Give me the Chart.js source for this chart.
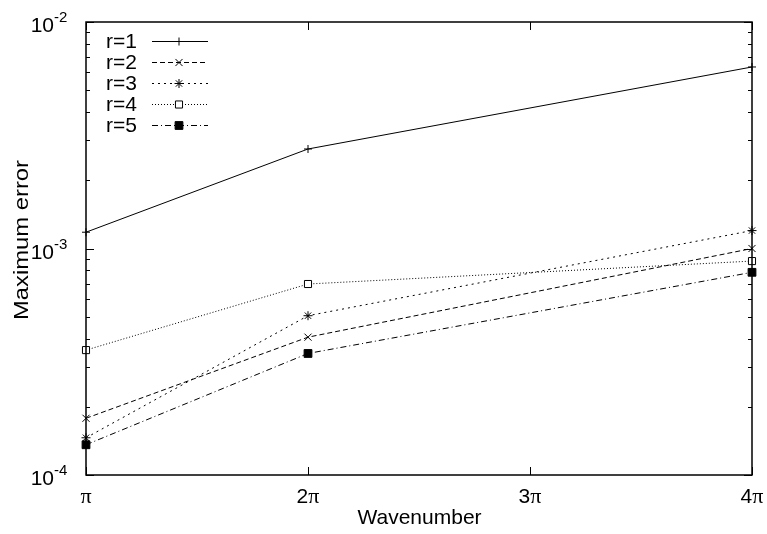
<!DOCTYPE html>
<html>
<head>
<meta charset="utf-8">
<script src="https://cdn.jsdelivr.net/npm/chart.js@4.4.1/dist/chart.umd.min.js"></script>
<style>
  html, body { margin: 0; padding: 0; background: #fff; }
</style>
</head>
<body>
<canvas id="myChart" width="767" height="534"></canvas>
<script>
// Datos: número de onda en múltiplos de pi
const wavenumbers = [1, 2, 4];
const seriesNames = ['r=1', 'r=2', 'r=3', 'r=4', 'r=5'];
const errR1 = [1.18e-3, 2.75e-3, 6.33e-3];
const errR2 = [1.78e-4, 4.06e-4, 1.0e-3];
const errR3 = [1.46e-4, 5.05e-4, 1.2e-3];
const errR4 = [3.56e-4, 6.97e-4, 8.8e-4];
const errR5 = [1.36e-4, 3.44e-4, 7.85e-4];

// Ejes
const xTickValues = [1, 2, 3, 4];
const xTickFactors = ['', '2', '3', '4'];   // se dibujan delante de π
const yTickValues = [1e-4, 1e-3, 1e-2];
const yTickExponents = ['-4', '-3', '-2'];

const FONT = "'Liberation Sans', Arial, sans-serif";
const FONT_PI = "'Liberation Serif', 'DejaVu Serif', serif";

// Estilo gnuplot: línea, guiones y marcador por serie
const estilos = [
    { dash: [], point: 'cross', radius: 4, fill: '#000' },
    { dash: [5, 3], point: 'crossRot', radius: 5, fill: '#000' },
    { dash: [2, 4], point: 'star', radius: 4.5, fill: '#000' },
    { dash: [1, 2], point: 'rect', radius: 5, fill: '#fff' },
    { dash: [6, 3, 1, 3], point: 'rect', radius: 5.5, fill: '#000' }
];

const allErrors = [errR1, errR2, errR3, errR4, errR5];

const datasets = allErrors.map((serie, i) => ({
    label: seriesNames[i],
    data: serie.map((v, j) => ({ x: wavenumbers[j], y: v })),
    borderColor: '#000',
    borderWidth: 1,
    borderDash: estilos[i].dash,
    pointStyle: estilos[i].point,
    pointRadius: estilos[i].radius,
    pointBorderWidth: 1,
    pointBorderColor: '#000',
    pointBackgroundColor: estilos[i].fill,
    fill: false,
    tension: 0,
    clip: false
}));

// Marco, marcas hacia dentro y textos al estilo gnuplot
const gnuplotFrame = {
    id: 'gnuplotFrame',
    beforeDatasetsDraw(chart) {
        const { ctx, chartArea: a, scales: { x, y } } = chart;
        ctx.save();
        ctx.strokeStyle = '#000';
        ctx.lineWidth = 1;
        ctx.setLineDash([]);
        ctx.beginPath();
        // marcas del eje x (abajo y arriba)
        xTickValues.forEach(v => {
            const px = Math.round(x.getPixelForValue(v)) + 0.5;
            ctx.moveTo(px, a.bottom); ctx.lineTo(px, a.bottom - 8);
            ctx.moveTo(px, a.top); ctx.lineTo(px, a.top + 8);
        });
        // marcas mayores y menores del eje y (izquierda y derecha)
        yTickValues.forEach((dec, k) => {
            const py = Math.round(y.getPixelForValue(dec)) + 0.5;
            ctx.moveTo(a.left, py); ctx.lineTo(a.left + 8, py);
            ctx.moveTo(a.right, py); ctx.lineTo(a.right - 8, py);
            if (k < yTickValues.length - 1) {
                for (let m = 2; m <= 9; m++) {
                    const pm = Math.round(y.getPixelForValue(m * dec)) + 0.5;
                    ctx.moveTo(a.left, pm); ctx.lineTo(a.left + 4, pm);
                    ctx.moveTo(a.right, pm); ctx.lineTo(a.right - 4, pm);
                }
            }
        });
        ctx.stroke();
        ctx.restore();
    },
    afterDatasetsDraw(chart) {
        const { ctx, chartArea: a, scales: { x, y } } = chart;
        ctx.save();
        // borde
        ctx.strokeStyle = '#000';
        ctx.lineWidth = 1.5;
        ctx.setLineDash([]);
        ctx.strokeRect(a.left, a.top, a.right - a.left, a.bottom - a.top);

        ctx.fillStyle = '#000';
        ctx.textBaseline = 'alphabetic';
        // etiquetas x: número + π (π en fuente serif como Symbol)
        xTickValues.forEach((v, i) => {
            ctx.font = '21px ' + FONT;
            const wNum = ctx.measureText(xTickFactors[i]).width;
            ctx.font = '22px ' + FONT_PI;
            const wPi = ctx.measureText('π').width;
            const x0 = x.getPixelForValue(v) - (wNum + wPi) / 2;
            ctx.textAlign = 'left';
            ctx.font = '21px ' + FONT;
            ctx.fillText(xTickFactors[i], x0, 503);
            ctx.font = '22px ' + FONT_PI;
            ctx.fillText('π', x0 + wNum, 503);
        });
        // etiquetas y: 10 con exponente
        yTickValues.forEach((v, i) => {
            const py = y.getPixelForValue(v);
            ctx.font = '21px ' + FONT;
            ctx.textAlign = 'right';
            ctx.fillText('10', 54, py + 10);
            ctx.font = '15px ' + FONT;
            ctx.textAlign = 'left';
            ctx.fillText(yTickExponents[i], 54, py);
        });
        // títulos de ejes
        ctx.font = '21px ' + FONT;
        ctx.textAlign = 'center';
        ctx.fillText('Wavenumber', 419.5, 524);
        ctx.save();
        ctx.translate(28, 240);
        ctx.rotate(-Math.PI / 2);
        const w = ctx.measureText('Maximum error').width;
        ctx.scale(160 / w, 1);
        ctx.fillText('Maximum error', 0, 0);
        ctx.restore();

        // leyenda
        chart.data.datasets.forEach((ds, i) => {
            const ly = 41.5 + i * 21;
            ctx.font = '21px ' + FONT;
            ctx.textAlign = 'right';
            ctx.textBaseline = 'middle';
            ctx.fillStyle = '#000';
            ctx.fillText(ds.label, 137, ly + 1);
            ctx.strokeStyle = '#000';
            ctx.lineWidth = 1;
            ctx.setLineDash(ds.borderDash);
            ctx.beginPath();
            ctx.moveTo(152, ly); ctx.lineTo(208, ly);
            ctx.stroke();
            ctx.setLineDash([]);
            ctx.fillStyle = ds.pointBackgroundColor;
            Chart.helpers.drawPoint(ctx, {
                pointStyle: ds.pointStyle,
                radius: ds.pointRadius,
                rotation: 0,
                borderWidth: 1
            }, 179, ly);
        });
        ctx.restore();
    }
};

const ctx = document.getElementById('myChart').getContext('2d');
const myChart = new Chart(ctx, {
    type: 'line',
    data: { datasets: datasets },
    options: {
        responsive: false,
        animation: false,
        devicePixelRatio: 1,
        layout: { padding: { left: 86, right: 15, top: 22, bottom: 59 } },
        scales: {
            x: { type: 'linear', display: false, min: 1, max: 4 },
            y: { type: 'logarithmic', display: false, min: 1e-4, max: 1e-2 }
        },
        plugins: {
            legend: { display: false },
            tooltip: { enabled: false }
        }
    },
    plugins: [gnuplotFrame]
});
</script>
</body>
</html>
